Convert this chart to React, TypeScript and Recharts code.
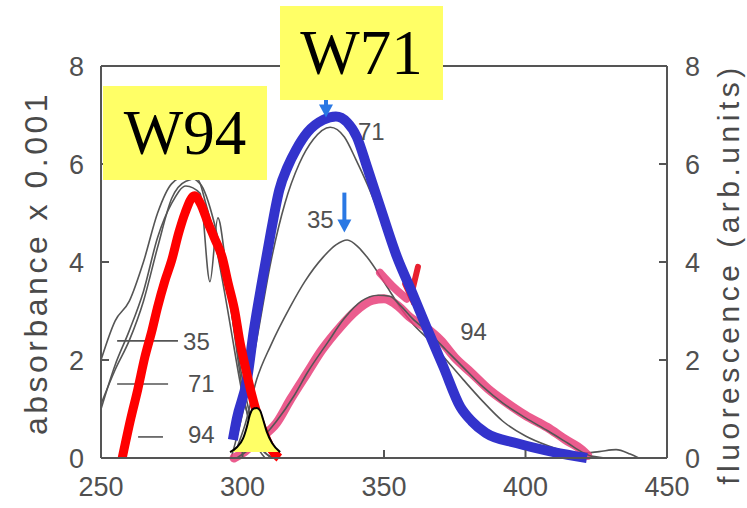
import React from "react";
import {
  ComposedChart,
  Line,
  Area,
  XAxis,
  YAxis,
  ReferenceLine,
  ReferenceDot,
} from "recharts";

// wavelength (nm) / value readings
const abs35X = [250, 255, 260, 265, 270, 275, 280, 285, 290, 293, 296, 300, 303, 306, 310];
const abs35Y = [2.0, 2.8, 3.2, 4.0, 5.0, 5.6, 5.75, 5.6, 4.8, 4.0, 3.0, 1.6, 0.8, 0.3, 0];
const abs71X = [250, 255, 260, 265, 270, 275, 280, 284, 287, 290, 293, 296, 300, 304, 308, 312];
const abs71Y = [1.1, 1.8, 2.4, 3.2, 4.3, 5.3, 5.65, 5.7, 5.2, 4.5, 3.6, 2.6, 1.3, 0.5, 0.1, 0];
const abs94X = [250, 255, 260, 265, 270, 275, 280, 285, 288.5, 291.3, 294, 297, 300, 304, 308];
const abs94Y = [1.0, 1.9, 2.6, 3.4, 4.5, 5.2, 5.55, 5.4, 3.6, 4.9, 4.0, 2.6, 1.4, 0.4, 0];

const fl71X = [296, 300, 305, 310, 315, 320, 325, 331, 336, 340, 344, 351, 356, 360, 365, 370, 375, 379, 385, 391, 403, 412, 420, 426, 432, 437, 440];
const fl71Y = [0, 0.9, 2.4, 4.0, 5.2, 6.0, 6.5, 6.75, 6.55, 6.1, 5.6, 4.6, 3.95, 3.5, 2.8, 2.14, 1.45, 0.92, 0.6, 0.43, 0.22, 0.14, 0.1, 0.13, 0.17, 0.08, 0];
const fl35X = [298, 301, 305, 310, 316.8, 322, 328.5, 333, 337, 341, 344, 351, 356, 360, 366, 372, 378, 385, 392, 400, 408, 415, 422, 428];
const fl35Y = [0.2, 0.7, 1.6, 2.3, 3.08, 3.6, 4.1, 4.35, 4.45, 4.3, 4.1, 3.5, 3.05, 2.75, 2.4, 2.0, 1.6, 1.15, 0.75, 0.45, 0.25, 0.12, 0.05, 0];
const fl94X = [298, 305, 312, 318, 323, 330, 336, 342, 348, 352, 356, 360, 366, 372, 378, 385, 392, 400, 408, 415, 420, 425];
const fl94Y = [0, 0.3, 0.75, 1.25, 1.75, 2.35, 2.85, 3.2, 3.32, 3.3, 3.1, 2.85, 2.55, 2.2, 1.85, 1.45, 1.12, 0.82, 0.55, 0.3, 0.12, 0];

// hand-drawn highlights
const redX = [257.5, 260.5, 263, 265.5, 268, 270, 272.5, 275, 277.5, 279.7, 283, 285.5, 287.8, 290, 292.8, 295, 297.4, 299, 301, 303, 305.5, 308, 310.5, 313];
const redY = [0, 0.8, 1.4, 2.06, 2.6, 3.08, 3.6, 4.04, 4.6, 5.0, 5.35, 5.15, 4.8, 4.5, 4.1, 3.55, 2.96, 2.4, 1.86, 1.35, 0.84, 0.45, 0.15, 0];
const blueX = [296.6, 298, 301.6, 304, 307, 310, 313, 316, 319, 323, 328.5, 333, 337, 340.4, 344, 349, 354.6, 360, 365, 371, 377, 381, 386, 397, 410, 421.7];
const blueY = [0.37, 0.8, 1.6, 2.6, 3.63, 4.6, 5.47, 5.95, 6.3, 6.65, 6.9, 6.97, 6.85, 6.55, 5.94, 5.06, 4.1, 3.37, 2.67, 1.86, 1.04, 0.75, 0.51, 0.3, 0.12, 0];
const pinkX = [297, 300, 305, 312, 317, 322.8, 328, 334.5, 340, 346, 350, 355, 359, 365, 370, 375, 381, 387, 393.5, 400, 407.6, 414, 420, 422];
const pinkY = [0, 0.1, 0.35, 0.71, 1.2, 1.73, 2.2, 2.67, 3.0, 3.22, 3.25, 3.1, 2.88, 2.65, 2.4, 2.05, 1.73, 1.4, 1.12, 0.87, 0.63, 0.38, 0.16, 0.05];
const pinkMarkX = [348.6, 354, 358];
const pinkMarkY = [3.78, 3.45, 3.25];
const redMarkX = [357.5, 359.5, 362];
const redMarkY = [3.55, 3.3, 3.9];
const yellowX = [295.6, 298, 300.2, 301.6, 302.6, 303.7, 305, 306.2, 307.2, 308.5, 310.5, 313.3];
const yellowY = [0.12, 0.22, 0.4, 0.65, 0.88, 1.0, 1.02, 0.97, 0.8, 0.55, 0.3, 0.12];

// small key lines inside the plot
const key35X = [255.7, 277.2];
const key35Y = [2.39, 2.39];
const key71X = [255.7, 273.7];
const key71Y = [1.51, 1.51];
const key94X = [263.1, 271.9];
const key94Y = [0.43, 0.43];

const textLabels = [
  { text: "35", x: 279, y: 2.2 },
  { text: "71", x: 280.7, y: 1.35 },
  { text: "94", x: 280.7, y: 0.31 },
  { text: "71", x: 340.8, y: 6.49 },
  { text: "35", x: 322.8, y: 4.69 },
  { text: "94", x: 376.9, y: 2.41 },
];
const arrows = [
  { x: 329.5, y: 6.95, len: 34 },
  { x: 336, y: 4.6, len: 40 },
];

const xTicks = [250, 300, 350, 400, 450];
const yTicks = [0, 2, 4, 6, 8];

const toPts = (xs: number[], ys: number[]) => xs.map((x, i) => ({ x, y: ys[i] }));

const GRAY = "#555";
const tickStyle = { fill: "#505050", fontSize: 27, fontFamily: "Liberation Sans, Arial, sans-serif" };

const thin = (key: string, xs: number[], ys: number[], axis: string) => (
  <Line
    key={key}
    yAxisId={axis}
    data={toPts(xs, ys)}
    dataKey="y"
    type="monotone"
    stroke={GRAY}
    strokeWidth={1.6}
    dot={false}
    isAnimationActive={false}
  />
);

const boxStyle: React.CSSProperties = {
  position: "absolute",
  background: "#ffff66",
  display: "flex",
  alignItems: "center",
  justifyContent: "center",
  fontFamily: "Liberation Serif, Times New Roman, serif",
  fontSize: 63,
  color: "#000",
};

const axisTitle: React.CSSProperties = {
  position: "absolute",
  transform: "translate(-50%, -50%) rotate(-90deg)",
  whiteSpace: "nowrap",
  lineHeight: 1,
  fontFamily: "Liberation Sans, Arial, sans-serif",
  color: "#4a4a4a",
};

export default function App() {
  return (
    <div style={{ position: "absolute", left: 0, top: 0, width: 747, height: 508, background: "#fff" }}>
      <ComposedChart width={747} height={508} margin={{ top: 66, right: 20, bottom: 10, left: 41 }}>
        <XAxis
          type="number"
          dataKey="x"
          domain={[250, 450]}
          ticks={xTicks}
          allowDuplicatedCategory={false}
          height={40}
          tick={tickStyle}
          tickSize={-8}
          tickMargin={27}
          stroke={GRAY}
          strokeWidth={2}
        />
        <YAxis
          yAxisId="abs"
          domain={[0, 8]}
          ticks={yTicks}
          width={60}
          tick={tickStyle}
          tickSize={-8}
          tickMargin={25}
          stroke={GRAY}
          strokeWidth={2}
        />
        <YAxis
          yAxisId="fl"
          orientation="right"
          domain={[0, 8]}
          ticks={yTicks}
          width={60}
          tick={tickStyle}
          tickSize={-8}
          tickMargin={26}
          stroke={GRAY}
          strokeWidth={2}
        />
        <ReferenceLine yAxisId="abs" y={8} stroke={GRAY} strokeWidth={2} />

        {thin("a35", abs35X, abs35Y, "abs")}
        {thin("a71", abs71X, abs71Y, "abs")}
        {thin("a94", abs94X, abs94Y, "abs")}
        {thin("f71", fl71X, fl71Y, "fl")}
        {thin("f35", fl35X, fl35Y, "fl")}
        {thin("k35", key35X, key35Y, "abs")}
        {thin("k71", key71X, key71Y, "abs")}
        {thin("k94", key94X, key94Y, "abs")}

        <Line yAxisId="fl" data={toPts(pinkX, pinkY)} dataKey="y" type="monotone" stroke="#e8407a" strokeOpacity={0.85} strokeWidth={9} strokeLinecap="round" dot={false} isAnimationActive={false} />
        <Line yAxisId="fl" data={toPts(pinkMarkX, pinkMarkY)} dataKey="y" type="monotone" stroke="#e8407a" strokeOpacity={0.85} strokeWidth={8} strokeLinecap="round" dot={false} isAnimationActive={false} />
        <Line yAxisId="fl" data={toPts(redMarkX, redMarkY)} dataKey="y" type="linear" stroke="#e8202f" strokeWidth={6} strokeLinecap="round" dot={false} isAnimationActive={false} />
        {thin("f94", fl94X, fl94Y, "fl")}

        <Line yAxisId="fl" data={toPts(blueX, blueY)} dataKey="y" type="monotone" stroke="#3333cc" strokeWidth={10} strokeLinejoin="round" dot={false} isAnimationActive={false} />
        <Line yAxisId="abs" data={toPts(redX, redY)} dataKey="y" type="monotone" stroke="#ff0000" strokeWidth={9} strokeLinejoin="round" dot={false} isAnimationActive={false} />
        <Area
          yAxisId="abs"
          data={toPts(yellowX, yellowY)}
          dataKey="y"
          type="monotone"
          baseValue={0.12}
          fill="#ffff66"
          fillOpacity={1}
          stroke="#000"
          strokeWidth={2}
          dot={false}
          activeDot={false}
          isAnimationActive={false}
          {...({ zIndex: 2000 } as any)}
        />

        {textLabels.map((l, i) => (
          <ReferenceDot
            key={"t" + i}
            yAxisId="abs"
            x={l.x}
            y={l.y}
            shape={(p: any) => (
              <text x={p.cx} y={p.cy} fill="#505050" fontSize={24} fontFamily="Liberation Sans, Arial, sans-serif">
                {l.text}
              </text>
            )}
          />
        ))}
        {arrows.map((a, i) => (
          <ReferenceDot
            key={"a" + i}
            yAxisId="fl"
            x={a.x}
            y={a.y}
            shape={(p: any) => (
              <g>
                <line x1={p.cx} y1={p.cy - a.len} x2={p.cx} y2={p.cy - 10} stroke="#2a78e4" strokeWidth={4} />
                <path d={`M${p.cx - 7},${p.cy - 13} L${p.cx + 7},${p.cy - 13} L${p.cx},${p.cy} Z`} fill="#2a78e4" />
              </g>
            )}
          />
        ))}
      </ComposedChart>

      <div style={{ ...axisTitle, left: 36, top: 263, fontSize: 32, letterSpacing: 3.5 }}>absorbance x 0.001</div>
      <div style={{ ...axisTitle, left: 729, top: 274, fontSize: 30, letterSpacing: 4.5 }}>fluorescence (arb.units)</div>

      <div style={{ ...boxStyle, left: 103, top: 86, width: 164, height: 94 }}>W94</div>
      <div style={{ ...boxStyle, left: 280, top: 6, width: 163, height: 94 }}>W71</div>
    </div>
  );
}
